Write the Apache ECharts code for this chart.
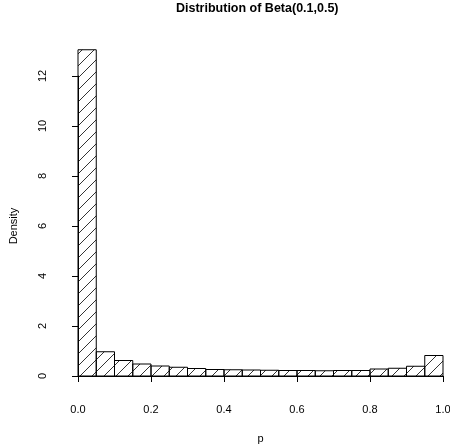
<!DOCTYPE html>
<html>
<head>
<meta charset="utf-8">
<script src="https://cdn.jsdelivr.net/npm/echarts@6/dist/echarts.min.js"></script>
<style>
html, body { margin: 0; padding: 0; background: #fff; }
#chart { width: 450px; height: 447px; }
</style>
</head>
<body>
<div id="chart"></div>
<script>
// histogram of Beta(0.1,0.5) sample, 20 bins of width 0.05
var binStart = [0.00, 0.05, 0.10, 0.15, 0.20, 0.25, 0.30, 0.35, 0.40, 0.45,
                0.50, 0.55, 0.60, 0.65, 0.70, 0.75, 0.80, 0.85, 0.90, 0.95];
var binWidth = 0.05;
var density = [13.05, 0.97, 0.62, 0.48, 0.40, 0.35, 0.30, 0.26, 0.25, 0.24,
               0.23, 0.22, 0.22, 0.21, 0.22, 0.22, 0.28, 0.31, 0.39, 0.82];

var font = '"Liberation Sans", Arial, sans-serif';

var bars = binStart.map(function (x, i) {
    return [x, x + binWidth, density[i]];
});

// rect outline + "/" hatching, like hist(density=...) in R
function renderBar(params, api) {
    var p0 = api.coord([api.value(0), 0]);
    var p1 = api.coord([api.value(1), api.value(2)]);
    var left = p0[0], right = p1[0], bottom = p0[1], top = p1[1];
    var step = 12;
    var kids = [];
    var c = Math.ceil((left + top) / step) * step;
    for (; c <= right + bottom; c += step) {
        var xa = Math.max(left, c - bottom);
        var xb = Math.min(right, c - top);
        if (xb > xa) {
            kids.push({
                type: 'line',
                shape: { x1: xa, y1: c - xa, x2: xb, y2: c - xb },
                style: { stroke: '#000', lineWidth: 0.8 }
            });
        }
    }
    kids.push({
        type: 'rect',
        shape: { x: left, y: top, width: right - left, height: bottom - top },
        style: { fill: 'transparent', stroke: '#000', lineWidth: 1 }
    });
    return { type: 'group', children: kids };
}

var chart = echarts.init(document.getElementById('chart'), null, { renderer: 'canvas' });

chart.setOption({
    animation: false,
    backgroundColor: '#fff',
    textStyle: { fontFamily: font },
    title: {
        text: 'Distribution of Beta(0.1,0.5)',
        left: 176,
        top: 2,
        padding: 0,
        textStyle: { fontFamily: font, fontSize: 12.5, fontWeight: 'bold', color: '#000' }
    },
    grid: { left: 78, right: 7, top: 76, bottom: 71, containLabel: false, outerBoundsMode: 'none' },
    xAxis: {
        type: 'value',
        min: 0,
        max: 1,
        interval: 0.2,
        offset: 13,
        name: 'p',
        nameLocation: 'middle',
        nameGap: 44,
        nameTextStyle: { fontSize: 11, color: '#000' },
        axisLine: { show: true, lineStyle: { color: '#000', width: 1 } },
        axisTick: { show: true, length: 6, lineStyle: { color: '#000' } },
        axisLabel: {
            fontSize: 11, color: '#000', margin: 15, showMaxLabel: true, showMinLabel: true,
            formatter: function (v) { return v.toFixed(1); }
        },
        splitLine: { show: false }
    },
    yAxis: {
        type: 'value',
        min: 0,
        max: 12,
        interval: 2,
        offset: 15,
        name: 'Density',
        nameLocation: 'middle',
        nameGap: 44,
        nameRotate: 90,
        nameTextStyle: { fontSize: 11, color: '#000' },
        axisLine: { show: true, lineStyle: { color: '#000', width: 1 } },
        axisTick: { show: true, length: 6, lineStyle: { color: '#000' } },
        axisLabel: { fontSize: 11, color: '#000', margin: 15, rotate: 90 },
        splitLine: { show: false }
    },
    series: [{
        type: 'custom',
        clip: false,
        renderItem: renderBar,
        encode: { x: [0, 1], y: 2 },
        data: bars
    }]
});
</script>
</body>
</html>
